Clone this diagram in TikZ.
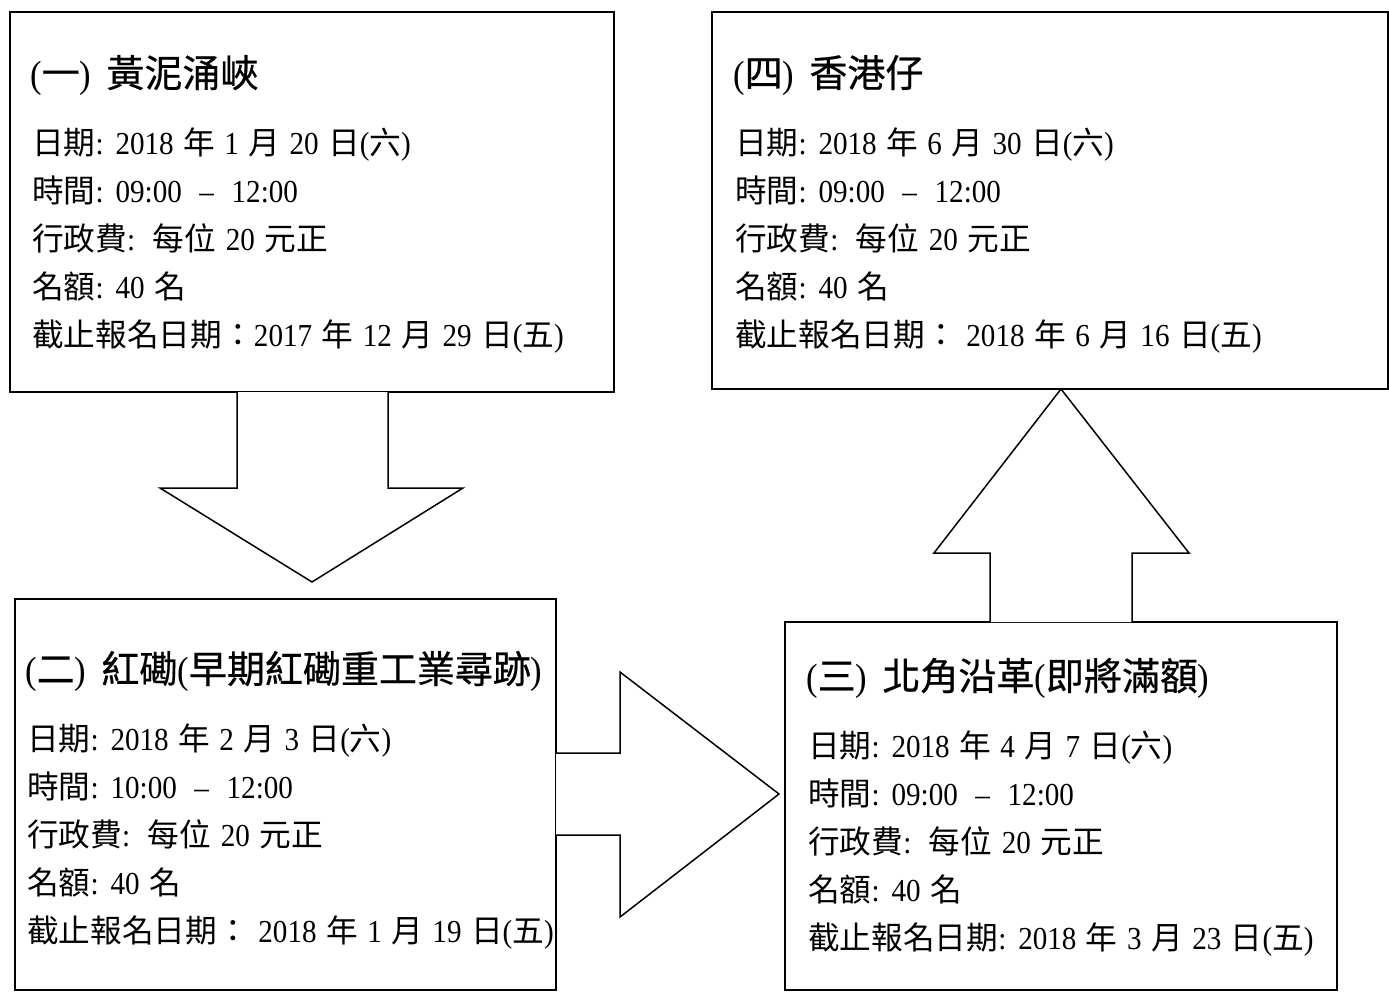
\documentclass[tikz,border=0pt]{standalone}
\usepackage{fontspec}
\setmainfont{Liberation Serif}[FakeStretch=0.91, WordSpace=1.3]
\newfontfamily\bodycjk{Noto Sans CJK TC}[Scale=0.99]
\newfontfamily\titlecjk{Noto Sans CJK TC}[FakeBold=0.6]
\let\cjkfont\bodycjk
\XeTeXinterchartokenstate=1
\newXeTeXintercharclass\CJKcls
\newcount\cjkc
\cjkc="3000 \loop \XeTeXcharclass\cjkc=\CJKcls \advance\cjkc by 1 \ifnum\cjkc<"3040 \repeat
\cjkc="4E00 \loop \XeTeXcharclass\cjkc=\CJKcls \advance\cjkc by 1 \ifnum\cjkc<"A000 \repeat
\cjkc="FF01 \loop \XeTeXcharclass\cjkc=\CJKcls \advance\cjkc by 1 \ifnum\cjkc<"FF61 \repeat
\XeTeXinterchartoks 0 \CJKcls = {\begingroup\cjkfont}
\XeTeXinterchartoks 4095 \CJKcls = {\begingroup\cjkfont}
\XeTeXinterchartoks \CJKcls 0 = {\endgroup}
\XeTeXinterchartoks \CJKcls 4095 = {\endgroup}
\tikzset{
  box/.style={draw, line width=1.5pt, anchor=north west, inner sep=0pt, outer sep=0pt},
  arr/.style={line width=1.5pt, line join=miter, line cap=rect},
  ttl/.style={anchor=base west, inner sep=0pt, font=\let\cjkfont\titlecjk\fontsize{38}{46}\selectfont},
  txt/.style={anchor=base west, inner sep=0pt, font=\fontsize{32}{40}\selectfont}
}
\newcommand\infoblock[9]{%
  \node[ttl] (#1t) at (#2,#3) {#4};
  \node[txt] (#1a) at (#2+2,#3+67) {#5};
  \node[txt] (#1b) at (#2+2,#3+115) {#6};
  \node[txt] (#1c) at (#2+2,#3+163) {#7};
  \node[txt] (#1d) at (#2+2,#3+211) {#8};
  \node[txt] (#1e) at (#2+2,#3+259) {#9};
}
\begin{document}
\begin{tikzpicture}[x=1pt,y=-1pt]
\useasboundingbox (0,0) rectangle (1389,991);
\fill[white] (0,0) rectangle (1389,991);
% boxes
\node[box, minimum width=604pt, minimum height=380pt] (b1) at (10,12) {};
\node[box, minimum width=676pt, minimum height=377pt] (b4) at (712,12) {};
\node[box, minimum width=541pt, minimum height=391pt] (b2) at (15,599) {};
\node[box, minimum width=552pt, minimum height=368pt] (b3) at (785,622) {};
% down arrow b1 -> b2
\fill[white] (237,0 |- b1.south) -- (237,488) -- (160,488) -- (312,582) -- (463,488) -- (388,488) -- (388,0 |- b1.south) -- cycle;
\draw[arr] (237,0 |- b1.south) -- (237,488) -- (160,488) -- (312,582) -- (463,488) -- (388,488) -- (388,0 |- b1.south);
% right arrow b2 -> b3
\fill[white] (b2.east |- 0,753) -- (620,753) -- (620,672) -- (779,794) -- (620,917) -- (620,835) -- (b2.east |- 0,835) -- cycle;
\draw[arr] (b2.east |- 0,753) -- (620,753) -- (620,672) -- (779,794) -- (620,917) -- (620,835) -- (b2.east |- 0,835);
% up arrow b3 -> b4
\fill[white] (990,0 |- b3.north) -- (990,553) -- (934,553) -- (1061,0 |- b4.south) -- (1189,553) -- (1132,553) -- (1132,0 |- b3.north) -- cycle;
\draw[arr] (990,0 |- b3.north) -- (990,553) -- (934,553) -- (1061,0 |- b4.south) -- (1189,553) -- (1132,553) -- (1132,0 |- b3.north);
% texts
\infoblock{p1}{30}{87}{(一)\hspace{0.4em}黃泥涌峽}{日期: 2018 年 1 月 20 日(六)}{時間: 09:00\hspace{0.55em}–\hspace{0.55em}12:00}{行政費:\hspace{0.55em}每位 20 元正}{名額: 40 名}{截止報名日期：2017 年 12 月 29 日(五)}
\infoblock{p4}{733}{87}{(四)\hspace{0.4em}香港仔}{日期: 2018 年 6 月 30 日(六)}{時間: 09:00\hspace{0.55em}–\hspace{0.55em}12:00}{行政費:\hspace{0.55em}每位 20 元正}{名額: 40 名}{截止報名日期： 2018 年 6 月 16 日(五)}
\infoblock{p2}{25}{683}{(二)\hspace{0.4em}紅磡(早期紅磡重工業尋跡)}{日期: 2018 年 2 月 3 日(六)}{時間: 10:00\hspace{0.55em}–\hspace{0.55em}12:00}{行政費:\hspace{0.55em}每位 20 元正}{名額: 40 名}{截止報名日期： 2018 年 1 月 19 日(五)}
\infoblock{p3}{806}{690}{(三)\hspace{0.4em}北角沿革(即將滿額)}{日期: 2018 年 4 月 7 日(六)}{時間: 09:00\hspace{0.55em}–\hspace{0.55em}12:00}{行政費:\hspace{0.55em}每位 20 元正}{名額: 40 名}{截止報名日期: 2018 年 3 月 23 日(五)}
\end{tikzpicture}
\end{document}
